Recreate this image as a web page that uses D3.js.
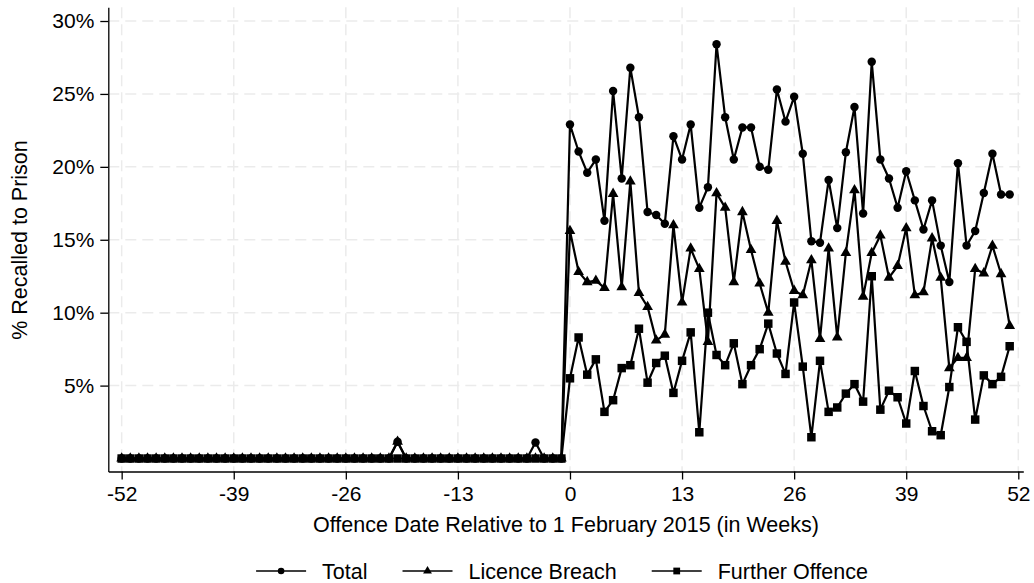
<!DOCTYPE HTML>
<html>
<head>
    <meta charset="utf-8">
    <title>Recalled to Prison</title>
    <script src="https://d3js.org/d3.v7.min.js"></script>
    <style>
        body { margin: 0; background: #fff; }
        text { font-family: "Liberation Sans", Arial, sans-serif; fill: #000; }
    </style>
</head>
<body onload="main()">

<svg id="chart"></svg>

<script>
    // weeks relative to 1 February 2015
    const weeks = [
        -52, -51, -50, -49, -48, -47, -46, -45, -44, -43, -42, -41, -40,
        -39, -38, -37, -36, -35, -34, -33, -32, -31, -30, -29, -28, -27,
        -26, -25, -24, -23, -22, -21, -20, -19, -18, -17, -16, -15, -14,
        -13, -12, -11, -10, -9, -8, -7, -6, -5, -4, -3, -2, -1,
        0, 1, 2, 3, 4, 5, 6, 7, 8, 9, 10, 11, 12,
        13, 14, 15, 16, 17, 18, 19, 20, 21, 22, 23, 24, 25,
        26, 27, 28, 29, 30, 31, 32, 33, 34, 35, 36, 37, 38,
        39, 40, 41, 42, 43, 44, 45, 46, 47, 48, 49, 50, 51
    ];

    // % recalled, weeks -52..51
    const total = [
        0, 0, 0, 0, 0, 0, 0, 0, 0, 0, 0, 0, 0,
        0, 0, 0, 0, 0, 0, 0, 0, 0, 0, 0, 0, 0,
        0, 0, 0, 0, 0, 0, 1.15, 0, 0, 0, 0, 0, 0,
        0, 0, 0, 0, 0, 0, 0, 0, 0, 1.1, 0, 0, 0,
        22.9, 21.05, 19.6, 20.5, 16.3, 25.2, 19.2, 26.8, 23.4, 16.9,
        16.7, 16.1, 22.1, 20.5, 22.9, 17.2, 18.6, 28.4, 23.4, 20.5,
        22.7, 22.7, 20.0, 19.8, 25.3, 23.1, 24.8, 20.9, 14.9, 14.8,
        19.1, 15.8, 21.0, 24.1, 16.8, 27.2, 20.5, 19.2, 17.2, 19.7,
        17.7, 15.7, 17.7, 14.6, 12.1, 20.25, 14.6, 15.6, 18.2, 20.9,
        18.1, 18.1
    ];

    const licenceBreach = [
        0, 0, 0, 0, 0, 0, 0, 0, 0, 0, 0, 0, 0,
        0, 0, 0, 0, 0, 0, 0, 0, 0, 0, 0, 0, 0,
        0, 0, 0, 0, 0, 0, 1.15, 0, 0, 0, 0, 0, 0,
        0, 0, 0, 0, 0, 0, 0, 0, 0, 0, 0, 0, 0,
        15.6, 12.8, 12.1, 12.2, 11.7, 18.15, 11.75, 19.0, 11.35, 10.4,
        8.1, 8.5, 16.0, 10.7, 14.4, 13.0, 8.0, 18.2, 17.2, 12.1,
        16.9, 14.3, 12.0, 10.0, 16.3, 13.5, 11.5, 11.2, 13.6, 8.2,
        14.4, 8.3, 14.1, 18.4, 11.1, 14.1, 15.3, 12.4, 13.2, 15.8,
        11.2, 11.4, 15.1, 12.4, 6.2, 6.9, 6.9, 13.0, 12.7, 14.6,
        12.65, 9.1
    ];

    const furtherOffence = [
        0, 0, 0, 0, 0, 0, 0, 0, 0, 0, 0, 0, 0,
        0, 0, 0, 0, 0, 0, 0, 0, 0, 0, 0, 0, 0,
        0, 0, 0, 0, 0, 0, 0, 0, 0, 0, 0, 0, 0,
        0, 0, 0, 0, 0, 0, 0, 0, 0, 0, 0, 0, 0,
        5.5, 8.3, 5.75, 6.8, 3.2, 4.0, 6.2, 6.4, 8.9, 5.2,
        6.55, 7.05, 4.5, 6.7, 8.65, 1.8, 10.0, 7.1, 6.4, 7.9,
        5.1, 6.4, 7.5, 9.25, 7.2, 5.8, 10.7, 6.3, 1.46, 6.7,
        3.2, 3.5, 4.45, 5.1, 3.9, 12.5, 3.35, 4.65, 4.2, 2.4,
        6.0, 3.6, 1.87, 1.6, 4.9, 9.0, 8.0, 2.67, 5.7, 5.1,
        5.6, 7.7
    ];

    const seriesNames = ["Total", "Licence Breach", "Further Offence"];
    const xTicks = [-52, -39, -26, -13, 0, 13, 26, 39, 52];
    const yTicks = [5, 10, 15, 20, 25, 30];

    const WIDTH = 1034;
    const HEIGHT = 583;
    const FONT = 21;

    const symbols = [d3.symbolCircle, d3.symbolTriangle, d3.symbolSquare];
    const symbolSizes = [56, 50, 72];
    const legendSizes = [34, 34, 46];

    function main() {
        const svg = d3.select("#chart")
            .attr("width", WIDTH)
            .attr("height", HEIGHT);

        const x = d3.scaleLinear().domain([-53.55, 52.58]).range([108.3, 1023.3]);
        const y = d3.scaleLinear().domain([-0.89, 30.94]).range([471.5, 7.3]);

        // grid
        const grid = svg.append("g")
            .attr("stroke", "#ebebeb")
            .attr("stroke-width", 1.5)
            .attr("stroke-dasharray", "11,6");
        grid.selectAll(".hgrid").data(yTicks).enter().append("line")
            .attr("x1", x.range()[0]).attr("x2", x.range()[1])
            .attr("y1", d => y(d)).attr("y2", d => y(d));
        grid.selectAll(".vgrid").data(xTicks).enter().append("line")
            .attr("x1", d => x(d)).attr("x2", d => x(d))
            .attr("y1", y.range()[1]).attr("y2", y.range()[0]);

        // X axis (plain hyphen like the original)
        const xAxis = svg.append("g")
            .attr("transform", `translate(0,${y.range()[0]})`)
            .call(d3.axisBottom(x).tickValues(xTicks).tickSize(8).tickSizeOuter(0).tickPadding(7)
                .tickFormat(d => String(d)));
        // Y axis
        const yAxis = svg.append("g")
            .attr("transform", `translate(${x.range()[0]},0)`)
            .call(d3.axisLeft(y).tickValues(yTicks).tickSize(8).tickSizeOuter(0).tickPadding(6)
                .tickFormat(d => d + "%"));

        [xAxis, yAxis].forEach(a => {
            a.selectAll("text").style("font-size", FONT + "px").attr("fill", "#000");
            a.selectAll("path, line").attr("stroke", "#000").attr("stroke-width", 1.3);
            a.attr("font-family", null);
        });

        svg.append("text")
            .attr("text-anchor", "middle")
            .attr("x", 566)
            .attr("y", 532)
            .style("font-size", "21.5px")
            .text("Offence Date Relative to 1 February 2015 (in Weeks)");

        svg.append("text")
            .attr("text-anchor", "middle")
            .attr("transform", "translate(27,240) rotate(-90)")
            .style("font-size", "21.5px")
            .text("% Recalled to Prison");

        // series
        const allSeries = [total, licenceBreach, furtherOffence];
        const line = d3.line().x((d, i) => x(weeks[i])).y(d => y(d));

        allSeries.forEach((values, s) => {
            const g = svg.append("g");
            g.append("path")
                .datum(values)
                .attr("fill", "none")
                .attr("stroke", "#000")
                .attr("stroke-width", 2.2)
                .attr("stroke-linejoin", "round")
                .attr("d", line);
            g.selectAll(".pt").data(values).enter().append("path")
                .attr("transform", (d, i) => `translate(${x(weeks[i])},${y(d)})`)
                .attr("d", d3.symbol().type(symbols[s]).size(symbolSizes[s]))
                .attr("fill", "#000");
        });

        // legend
        const legend = svg.append("g");
        const LINE_LEN = 50, TEXT_GAP = 16, ITEM_GAP = 35;
        let cursor = 0;
        seriesNames.forEach((name, s) => {
            const item = legend.append("g");
            item.append("line")
                .attr("x1", 0).attr("x2", LINE_LEN)
                .attr("stroke", "#000").attr("stroke-width", 1.7);
            item.append("path")
                .attr("transform", `translate(${LINE_LEN / 2},0)`)
                .attr("d", d3.symbol().type(symbols[s]).size(legendSizes[s]))
                .attr("fill", "#000");
            const t = item.append("text")
                .attr("x", LINE_LEN + TEXT_GAP)
                .attr("dy", "0.35em")
                .style("font-size", "21.5px")
                .text(name);
            item.attr("transform", `translate(${cursor},0)`);
            cursor += LINE_LEN + TEXT_GAP + t.node().getComputedTextLength() + ITEM_GAP;
        });
        const legendWidth = cursor - ITEM_GAP;
        legend.attr("transform", `translate(${562 - legendWidth / 2},571)`);
    }
</script>

</body>
</html>
